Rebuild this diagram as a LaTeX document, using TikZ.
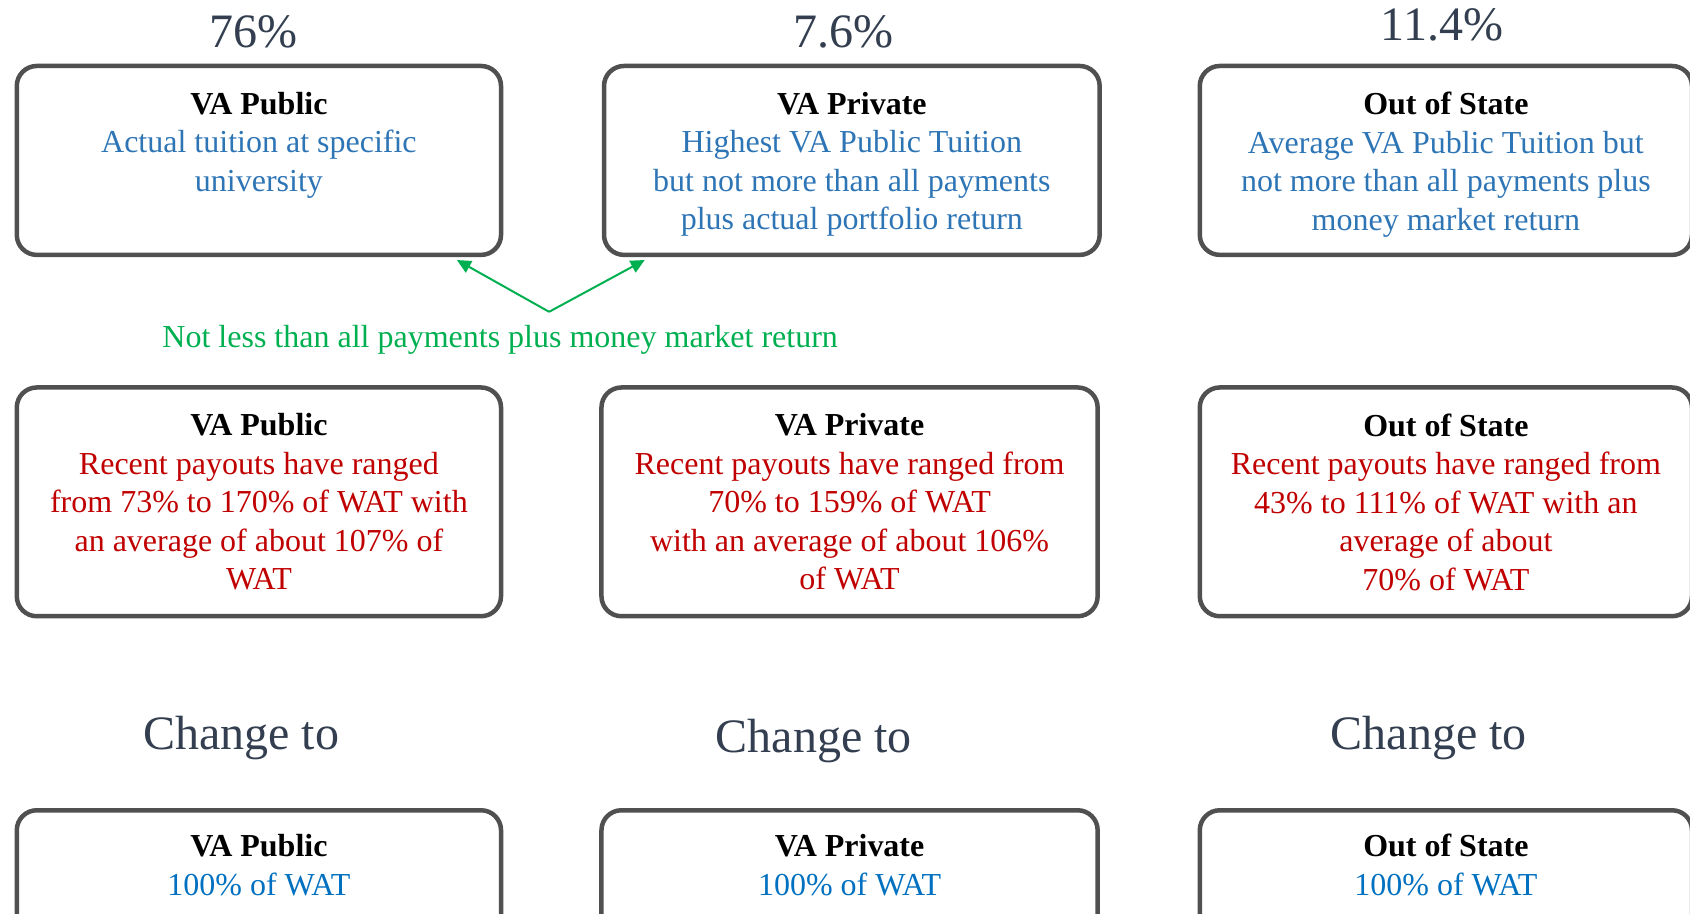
\documentclass[tikz,border=0pt]{standalone}
\usepackage{fontspec}
\setmainfont{Liberation Serif}
\usepackage{xcolor}
\usetikzlibrary{arrows.meta,positioning,calc}

\definecolor{boxgray}{HTML}{505050}
\definecolor{slate}{HTML}{333F50}
\definecolor{tuitblue}{HTML}{2E75B6}
\definecolor{watblue}{HTML}{0070C0}
\definecolor{payred}{HTML}{C00000}
\definecolor{mmgreen}{HTML}{00B050}

\newcommand{\cardtitle}[1]{{\color{black}\bfseries #1}}

\begin{document}
\begin{tikzpicture}[>=Triangle,font=\fontsize{16pt}{19.25pt}\selectfont,
  card/.style={draw=boxgray,line width=2.25pt,rounded corners=10pt,anchor=north},
  body/.style={align=center,anchor=north,inner sep=0pt},
  big/.style={font=\fontsize{24pt}{28pt}\selectfont,text=slate,anchor=base,inner sep=0pt},
  conn/.style={->,mmgreen,line width=1pt,-{Triangle[length=7pt,width=6.5pt]}}]

  \clip (0,0) rectangle (29.70,-16.06);

  % shares above the columns: VA public 4.55, VA private 14.95, out of state 25.41
  \foreach \x/\y/\pct/\id in {4.45/-0.83/76\%/pctA, 14.83/-0.84/7.6\%/pctB, 25.34/-0.72/11.4\%/pctC}{
    \node[big] (\id) at (\x,\y) {\pct};
  }

  % ---- current benefit ----
  \node[card,minimum width=8.51cm,minimum height=3.32cm] (pubTop) at (4.55,-1.12) {};
  \node[body,text=tuitblue] (pubTopTxt) at ([yshift=-14pt]pubTop.north)
    {\cardtitle{VA Public}\\Actual tuition at specific\\university};
  \node[card,minimum width=8.71cm,minimum height=3.32cm] (privTop) at (14.97,-1.12) {};
  \node[body,text=tuitblue] (privTopTxt) at ([yshift=-14pt]privTop.north)
    {\cardtitle{VA Private}\\Highest VA Public Tuition\\but not more than all payments\\plus actual portfolio return};
  \node[card,minimum width=8.65cm,minimum height=3.32cm] (oosTop) at (25.41,-1.12) {};
  \node[body,text=tuitblue] (oosTopTxt) at ([yshift=-14pt]oosTop.north)
    {\cardtitle{Out of State}\\Average VA Public Tuition but\\not more than all payments plus\\money market return};

  % floor shared by the first two columns
  \coordinate (apex) at (9.65,-5.48);
  \coordinate (tipL) at (8.03,-4.57);
  \coordinate (tipR) at (11.33,-4.57);
  \draw[conn] (apex) -- (tipL);
  \draw[conn] (apex) -- (tipR);
  \node[text=mmgreen,anchor=base,inner sep=0pt] (mmNote) at (8.79,-6.10)
    {Not less than all payments plus money market return};

  % ---- recent payouts ----
  \node[card,minimum width=8.51cm,minimum height=4.02cm] (pubMid) at (4.55,-6.77) {};
  \node[body,text=payred] (pubMidTxt) at ([yshift=-14pt]pubMid.north)
    {\cardtitle{VA Public}\\Recent payouts have ranged\\from 73\% to 170\% of WAT with\\an average of about 107\% of\\WAT};
  \node[card,minimum width=8.72cm,minimum height=4.02cm] (privMid) at (14.93,-6.77) {};
  \node[body,text=payred] (privMidTxt) at ([yshift=-14pt]privMid.north)
    {\cardtitle{VA Private}\\Recent payouts have ranged from\\70\% to 159\% of WAT\\with an average of about 106\%\\of WAT};
  \node[card,minimum width=8.65cm,minimum height=4.02cm] (oosMid) at (25.41,-6.77) {};
  \node[body,text=payred] (oosMidTxt) at ([yshift=-14pt]oosMid.north)
    {\cardtitle{Out of State}\\Recent payouts have ranged from\\43\% to 111\% of WAT with an\\average of about\\70\% of WAT};

  \foreach \x/\y/\id in {4.24/-13.18/chgA, 14.30/-13.22/chgB, 25.11/-13.18/chgC}{
    \node[big] (\id) at (\x,\y) {Change to};
  }

  % ---- proposed ----
  \node[card,minimum width=8.51cm,minimum height=2.6cm] (pubLow) at (4.55,-14.20) {};
  \node[body,text=watblue] (pubLowTxt) at ([yshift=-13pt]pubLow.north)
    {\cardtitle{VA Public}\\100\% of WAT};
  \node[card,minimum width=8.72cm,minimum height=2.6cm] (privLow) at (14.93,-14.20) {};
  \node[body,text=watblue] (privLowTxt) at ([yshift=-13pt]privLow.north)
    {\cardtitle{VA Private}\\100\% of WAT};
  \node[card,minimum width=8.65cm,minimum height=2.6cm] (oosLow) at (25.41,-14.20) {};
  \node[body,text=watblue] (oosLowTxt) at ([yshift=-13pt]oosLow.north)
    {\cardtitle{Out of State}\\100\% of WAT};
\end{tikzpicture}
\end{document}
